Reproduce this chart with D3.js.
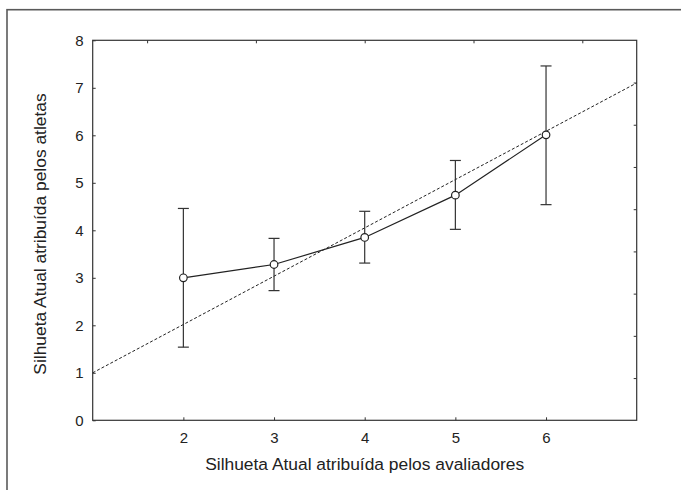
<!DOCTYPE html>
<html>
<head>
<meta charset="utf-8">
<script src="https://cdn.jsdelivr.net/npm/d3@7"></script>
<style>
  body { margin: 0; background: #fff; }
  svg { display: block; font-family: "Liberation Sans", Arial, sans-serif; }
</style>
</head>
<body>
<div id="chart"></div>
<script>
// data
const categories = [2, 3, 4, 5, 6];
const means = [3.0, 3.28, 3.85, 4.74, 6.01];
const upper = [4.46, 3.83, 4.40, 5.47, 7.46];
const lower = [1.54, 2.73, 3.31, 4.02, 4.54];
const xTicks = [2, 3, 4, 5, 6];
const yTicks = [0, 1, 2, 3, 4, 5, 6, 7, 8];
const topTicks = [1.6, 2.8, 4.0, 5.2, 6.4];
const rightTicks = [1, 2, 3, 4, 5, 6, 7, 8].map(k => k * 8 / 9);
// fitted line y = a + b*x
const fitA = -0.017;
const fitB = 1.017;

const width = 681, height = 490;
const margin = { left: 92.7, right: 681 - 636.7, top: 40.3, bottom: 490 - 420.3 };

const svg = d3.select("#chart")
  .append("svg")
  .attr("width", width)
  .attr("height", height);

// outer frame (runs off the right and bottom edges)
svg.append("rect")
  .attr("x", 7)
  .attr("y", 9.7)
  .attr("width", 700)
  .attr("height", 520)
  .style("fill", "none")
  .style("stroke", "#5a5a5a")
  .style("stroke-width", 1.6);

const x = d3.scaleLinear().domain([1, 7]).range([margin.left, width - margin.right]);
const y = d3.scaleLinear().domain([0, 8]).range([height - margin.bottom, margin.top]);

const axisColor = "#333";

function styleAxis(g, hideLabels) {
  g.select(".domain").remove();
  g.selectAll(".tick line").style("stroke", axisColor).style("stroke-width", 1);
  g.selectAll(".tick text")
    .style("font-size", "15px")
    .style("fill", "#222")
    .style("font-family", "Liberation Sans, Arial, sans-serif");
  if (hideLabels) g.selectAll(".tick text").remove();
}

svg.append("g")
  .attr("transform", `translate(0,${y(0)})`)
  .call(d3.axisBottom(x).tickValues(xTicks).tickSizeInner(-3).tickSizeOuter(0).tickPadding(12).tickFormat(d3.format("d")))
  .call(g => styleAxis(g, false));

svg.append("g")
  .attr("transform", `translate(${x(1)},0)`)
  .call(d3.axisLeft(y).tickValues(yTicks).tickSizeInner(-3).tickSizeOuter(0).tickPadding(9).tickFormat(d3.format("d")))
  .call(g => styleAxis(g, false));

svg.append("g")
  .attr("transform", `translate(0,${y(8)})`)
  .call(d3.axisTop(x).tickValues(topTicks).tickSizeInner(-3).tickSizeOuter(0))
  .call(g => styleAxis(g, true));

svg.append("g")
  .attr("transform", `translate(${x(7)},0)`)
  .call(d3.axisRight(y).tickValues(rightTicks).tickSizeInner(-3).tickSizeOuter(0))
  .call(g => styleAxis(g, true));

// plot box
svg.append("rect")
  .attr("x", x(1))
  .attr("y", y(8))
  .attr("width", x(7) - x(1))
  .attr("height", y(0) - y(8))
  .style("fill", "none")
  .style("stroke", axisColor)
  .style("stroke-width", 1.2);

// dashed fit line
svg.append("line")
  .attr("x1", x(1))
  .attr("y1", y(fitA + fitB * 1))
  .attr("x2", x(7))
  .attr("y2", y(fitA + fitB * 7))
  .style("stroke", "#222")
  .style("stroke-width", 1)
  .style("stroke-dasharray", "3,2");

const rows = categories.map((c, i) => ({ c: c, m: means[i], hi: upper[i], lo: lower[i] }));

// error bars
const bars = svg.append("g").selectAll("g").data(rows).join("g")
  .style("stroke", "#333")
  .style("stroke-width", 1.2);

bars.append("line")
  .attr("x1", d => x(d.c)).attr("x2", d => x(d.c))
  .attr("y1", d => y(d.hi)).attr("y2", d => y(d.lo));
bars.append("line")
  .attr("x1", d => x(d.c) - 5.5).attr("x2", d => x(d.c) + 5.5)
  .attr("y1", d => y(d.hi)).attr("y2", d => y(d.hi));
bars.append("line")
  .attr("x1", d => x(d.c) - 5.5).attr("x2", d => x(d.c) + 5.5)
  .attr("y1", d => y(d.lo)).attr("y2", d => y(d.lo));

// mean line
svg.append("path")
  .datum(rows)
  .attr("d", d3.line().x(d => x(d.c)).y(d => y(d.m)))
  .style("fill", "none")
  .style("stroke", "#222")
  .style("stroke-width", 1.2);

svg.append("g").selectAll("circle").data(rows).join("circle")
  .attr("cx", d => x(d.c))
  .attr("cy", d => y(d.m))
  .attr("r", 3.8)
  .style("fill", "#fff")
  .style("stroke", "#222")
  .style("stroke-width", 1.2);

// axis titles
svg.append("text")
  .attr("x", (x(1) + x(7)) / 2)
  .attr("y", 470)
  .attr("text-anchor", "middle")
  .style("font-size", "17.4px")
  .style("fill", "#222")
  .text("Silhueta Atual atribuída pelos avaliadores");

svg.append("text")
  .attr("transform", `translate(46,234) rotate(-90)`)
  .attr("text-anchor", "middle")
  .style("font-size", "17.4px")
  .style("fill", "#222")
  .text("Silhueta Atual atribuída pelos atletas");
</script>
</body>
</html>
